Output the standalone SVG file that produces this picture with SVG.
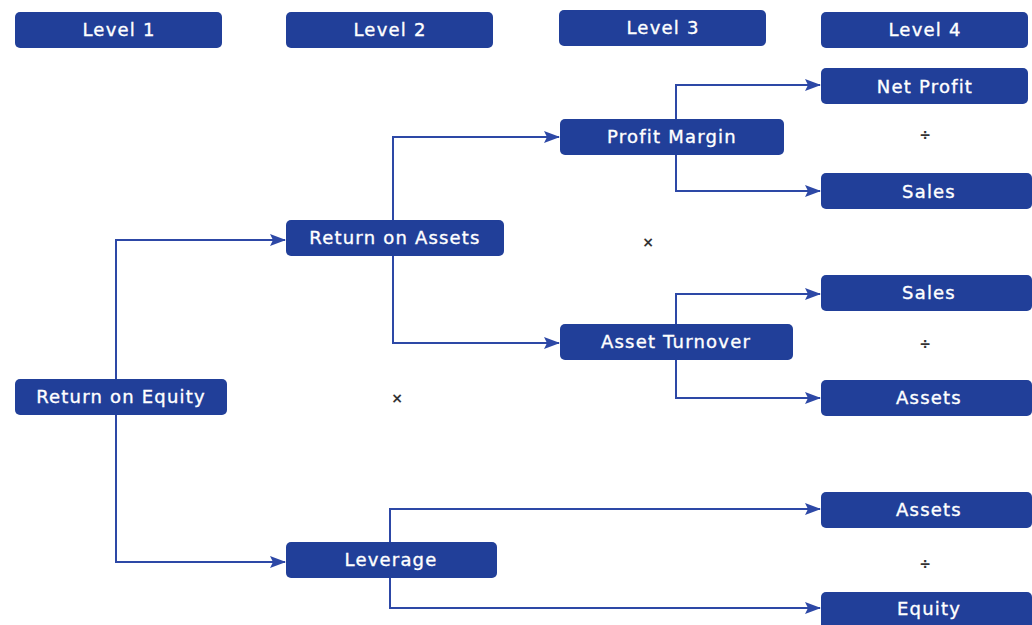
<svg xmlns="http://www.w3.org/2000/svg" width="1032" height="625" viewBox="0 0 1032 625">
<defs>
<marker id="arr" markerUnits="userSpaceOnUse" markerWidth="16" markerHeight="12" refX="15" refY="6" orient="auto">
<path d="M0,0 L16,6 L0,12 L3,6 Z" fill="#2d48a6"/>
</marker>
<style>
.box{fill:#213f99;}
.lbl{fill:#ffffff;stroke:#ffffff;stroke-width:0.35px;font-family:"DejaVu Sans",sans-serif;font-size:18px;letter-spacing:1.2px;text-anchor:middle;}
.op{fill:#333333;font-family:"DejaVu Sans",sans-serif;font-size:14px;font-weight:bold;text-anchor:middle;}
.con{fill:none;stroke:#2d48a6;stroke-width:2;}
</style>
</defs>
<rect width="1032" height="625" fill="#ffffff"/>
<g id="header-l1"><rect class="box" x="15" y="12" width="207" height="36" rx="5"/><text class="lbl" x="119" y="36">Level 1</text></g>
<g id="header-l2"><rect class="box" x="286" y="12" width="207" height="36" rx="5"/><text class="lbl" x="390" y="36">Level 2</text></g>
<g id="header-l3"><rect class="box" x="559" y="10" width="207" height="36" rx="5"/><text class="lbl" x="663" y="34">Level 3</text></g>
<g id="header-l4"><rect class="box" x="821" y="12" width="207" height="36" rx="5"/><text class="lbl" x="925" y="36">Level 4</text></g>
<g id="connectors">
<path class="con" d="M116,379 V240 H285" marker-end="url(#arr)"/>
<path class="con" d="M116,415 V562 H285" marker-end="url(#arr)"/>
<path class="con" d="M393,220 V137 H559" marker-end="url(#arr)"/>
<path class="con" d="M393,256 V343 H559" marker-end="url(#arr)"/>
<path class="con" d="M676,119 V85 H820" marker-end="url(#arr)"/>
<path class="con" d="M676,155 V191 H820" marker-end="url(#arr)"/>
<path class="con" d="M676,324 V294 H820" marker-end="url(#arr)"/>
<path class="con" d="M676,360 V398 H820" marker-end="url(#arr)"/>
<path class="con" d="M390,542 V509 H820" marker-end="url(#arr)"/>
<path class="con" d="M390,578 V608 H820" marker-end="url(#arr)"/>
</g>
<g id="roe"><rect class="box" x="15" y="379" width="212" height="36" rx="5"/><text class="lbl" x="121" y="403">Return on Equity</text></g>
<g id="roa"><rect class="box" x="286" y="220" width="218" height="36" rx="5"/><text class="lbl" x="395" y="244">Return on Assets</text></g>
<g id="leverage"><rect class="box" x="286" y="542" width="211" height="36" rx="5"/><text class="lbl" x="391" y="566">Leverage</text></g>
<g id="profit-margin"><rect class="box" x="560" y="119" width="224" height="36" rx="5"/><text class="lbl" x="672" y="143">Profit Margin</text></g>
<g id="asset-turnover"><rect class="box" x="560" y="324" width="233" height="36" rx="5"/><text class="lbl" x="676" y="348">Asset Turnover</text></g>
<g id="net-profit"><rect class="box" x="821" y="68" width="207" height="36" rx="5"/><text class="lbl" x="925" y="93">Net Profit</text></g>
<g id="sales-1"><rect class="box" x="821" y="173" width="211" height="36" rx="5"/><text class="lbl" x="929" y="198">Sales</text></g>
<g id="sales-2"><rect class="box" x="821" y="275" width="211" height="36" rx="5"/><text class="lbl" x="929" y="299">Sales</text></g>
<g id="assets-1"><rect class="box" x="821" y="380" width="211" height="36" rx="5"/><text class="lbl" x="929" y="404">Assets</text></g>
<g id="assets-2"><rect class="box" x="821" y="492" width="211" height="36" rx="5"/><text class="lbl" x="929" y="516">Assets</text></g>
<g id="equity"><rect class="box" x="821" y="592" width="211" height="38" rx="5"/><text class="lbl" x="929" y="615">Equity</text></g>
<g id="operators">
<text class="op" x="925" y="140">÷</text>
<text class="op" x="648" y="247">×</text>
<text class="op" x="397" y="403">×</text>
<text class="op" x="925" y="349">÷</text>
<text class="op" x="925" y="569">÷</text>
</g>
</svg>
